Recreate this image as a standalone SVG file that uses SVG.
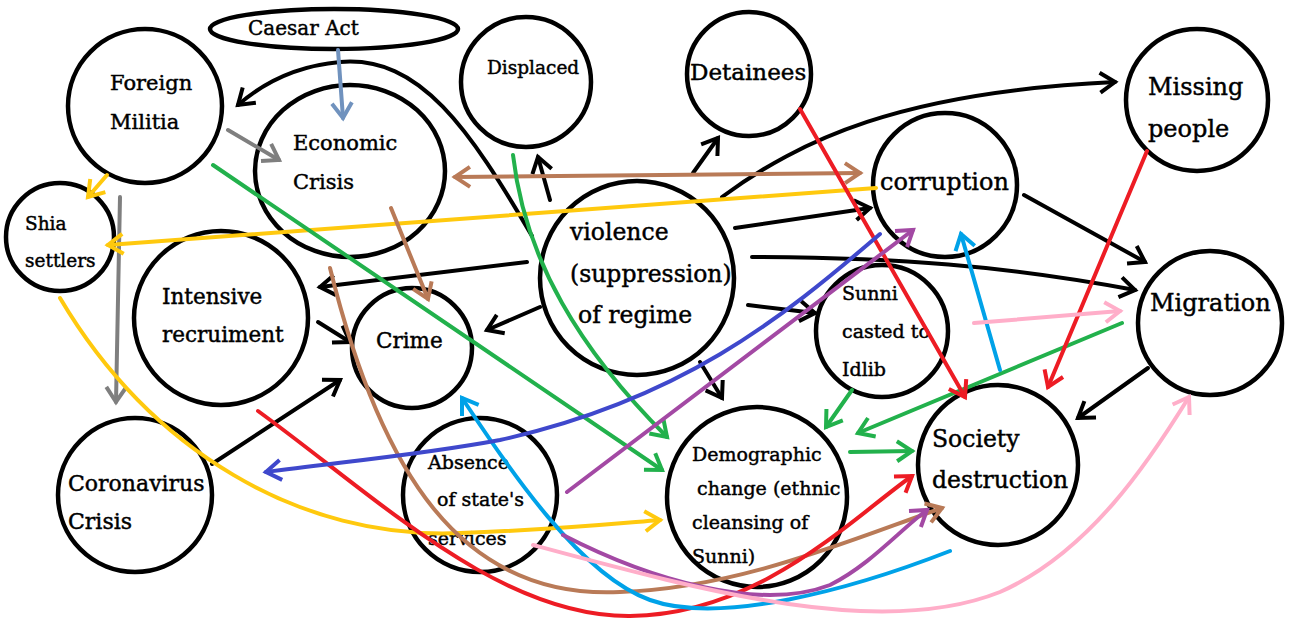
<svg xmlns="http://www.w3.org/2000/svg" width="1290" height="621" viewBox="0 0 1290 621">
<defs>
<style>
.n{fill:none;stroke:#000;stroke-width:4.5}
.t{font-family:"DejaVu Serif","Liberation Serif",serif;fill:#000;stroke:#000;stroke-width:0.45}
.c{fill:none;stroke-width:4;stroke-linecap:round}
.k{stroke:#000}.g{stroke:#7f7f7f}.sb{stroke:#7092be}.y{stroke:#ffc90e}.br{stroke:#b97a57}
.gr{stroke:#22b14c}.r{stroke:#ed1c24}.cy{stroke:#00a2e8}.bl{stroke:#3f48cc}.pu{stroke:#a349a4}.pk{stroke:#ffaec9}
</style>
<marker id="ak" viewBox="0 0 26 26" refX="20" refY="13" markerWidth="26" markerHeight="26" markerUnits="userSpaceOnUse" orient="auto-start-reverse"><path d="M5 3 L20 13 L5 23" fill="none" stroke="#000" stroke-width="4"/></marker>
<marker id="ag" viewBox="0 0 26 26" refX="20" refY="13" markerWidth="26" markerHeight="26" markerUnits="userSpaceOnUse" orient="auto-start-reverse"><path d="M5 3 L20 13 L5 23" fill="none" stroke="#7f7f7f" stroke-width="4"/></marker>
<marker id="asb" viewBox="0 0 26 26" refX="20" refY="13" markerWidth="26" markerHeight="26" markerUnits="userSpaceOnUse" orient="auto-start-reverse"><path d="M5 3 L20 13 L5 23" fill="none" stroke="#7092be" stroke-width="4"/></marker>
<marker id="ay" viewBox="0 0 26 26" refX="20" refY="13" markerWidth="26" markerHeight="26" markerUnits="userSpaceOnUse" orient="auto-start-reverse"><path d="M5 3 L20 13 L5 23" fill="none" stroke="#ffc90e" stroke-width="4"/></marker>
<marker id="abr" viewBox="0 0 26 26" refX="20" refY="13" markerWidth="26" markerHeight="26" markerUnits="userSpaceOnUse" orient="auto-start-reverse"><path d="M5 3 L20 13 L5 23" fill="none" stroke="#b97a57" stroke-width="4"/></marker>
<marker id="agr" viewBox="0 0 26 26" refX="20" refY="13" markerWidth="26" markerHeight="26" markerUnits="userSpaceOnUse" orient="auto-start-reverse"><path d="M5 3 L20 13 L5 23" fill="none" stroke="#22b14c" stroke-width="4"/></marker>
<marker id="ar" viewBox="0 0 26 26" refX="20" refY="13" markerWidth="26" markerHeight="26" markerUnits="userSpaceOnUse" orient="auto-start-reverse"><path d="M5 3 L20 13 L5 23" fill="none" stroke="#ed1c24" stroke-width="4"/></marker>
<marker id="acy" viewBox="0 0 26 26" refX="20" refY="13" markerWidth="26" markerHeight="26" markerUnits="userSpaceOnUse" orient="auto-start-reverse"><path d="M5 3 L20 13 L5 23" fill="none" stroke="#00a2e8" stroke-width="4"/></marker>
<marker id="abl" viewBox="0 0 26 26" refX="20" refY="13" markerWidth="26" markerHeight="26" markerUnits="userSpaceOnUse" orient="auto-start-reverse"><path d="M5 3 L20 13 L5 23" fill="none" stroke="#3f48cc" stroke-width="4"/></marker>
<marker id="apu" viewBox="0 0 26 26" refX="20" refY="13" markerWidth="26" markerHeight="26" markerUnits="userSpaceOnUse" orient="auto-start-reverse"><path d="M5 3 L20 13 L5 23" fill="none" stroke="#a349a4" stroke-width="4"/></marker>
<marker id="apk" viewBox="0 0 26 26" refX="20" refY="13" markerWidth="26" markerHeight="26" markerUnits="userSpaceOnUse" orient="auto-start-reverse"><path d="M5 3 L20 13 L5 23" fill="none" stroke="#ffaec9" stroke-width="4"/></marker>
</defs>
<rect width="1290" height="621" fill="#fff"/>

<g id="caesar"><ellipse class="n" cx="334" cy="29" rx="124" ry="20"/><text class="t" x="248" y="35" font-size="20">Caesar Act</text></g>
<g id="foreign"><circle class="n" cx="145" cy="106" r="77"/><text class="t" font-size="21"><tspan x="110" y="90">Foreign</tspan><tspan x="110" y="129">Militia</tspan></text></g>
<g id="economic"><ellipse class="n" cx="350" cy="171" rx="95" ry="86"/><text class="t" font-size="21"><tspan x="293" y="150">Economic</tspan><tspan x="293" y="189">Crisis</tspan></text></g>
<g id="shia"><circle class="n" cx="60" cy="237" r="54"/><text class="t" font-size="18.5"><tspan x="25" y="230">Shia</tspan><tspan x="25" y="267">settlers</tspan></text></g>
<g id="intensive"><circle class="n" cx="221" cy="318" r="87"/><text class="t" font-size="21.5"><tspan x="162" y="304">Intensive</tspan><tspan x="162" y="342">recruiment</tspan></text></g>
<g id="crime"><circle class="n" cx="412" cy="348" r="60"/><text class="t" x="376" y="348" font-size="21.5">Crime</text></g>
<g id="corona"><circle class="n" cx="135" cy="495" r="77"/><text class="t" font-size="22"><tspan x="68" y="491">Coronavirus</tspan><tspan x="68" y="529">Crisis</tspan></text></g>
<g id="displaced"><circle class="n" cx="526" cy="82" r="65"/><text class="t" x="487" y="74" font-size="18.5">Displaced</text></g>
<g id="detainees"><circle class="n" cx="749" cy="74" r="62"/><text class="t" x="690" y="80" font-size="23">Detainees</text></g>
<g id="violence"><circle class="n" cx="637" cy="278" r="97"/><text class="t" font-size="23.5"><tspan x="570" y="240">violence</tspan><tspan x="570" y="282">(suppression)</tspan><tspan x="578" y="323">of regime</tspan></text></g>
<g id="corruption"><circle class="n" cx="945" cy="185" r="72"/><text class="t" x="880" y="190" font-size="24">corruption</text></g>
<g id="missing"><circle class="n" cx="1197" cy="100" r="71"/><text class="t" font-size="24"><tspan x="1148" y="95">Missing</tspan><tspan x="1148" y="137">people</tspan></text></g>
<g id="migration"><circle class="n" cx="1210" cy="323" r="72"/><text class="t" x="1150" y="311" font-size="24">Migration</text></g>
<g id="sunni"><circle class="n" cx="882" cy="331" r="66"/><text class="t" font-size="19"><tspan x="842" y="300">Sunni</tspan><tspan x="842" y="338">casted to</tspan><tspan x="842" y="376">Idlib</tspan></text></g>
<g id="society"><circle class="n" cx="998" cy="465" r="80"/><text class="t" font-size="23.5"><tspan x="932" y="447">Society</tspan><tspan x="932" y="488">destruction</tspan></text></g>
<g id="demographic"><circle class="n" cx="757" cy="497" r="90"/><text class="t" font-size="19"><tspan x="692" y="461">Demographic</tspan><tspan x="697" y="495">change (ethnic</tspan><tspan x="692" y="529">cleansing of</tspan><tspan x="692" y="563">Sunni)</tspan></text></g>
<g id="absence"><circle class="n" cx="480" cy="495" r="77"/><text class="t" font-size="19"><tspan x="428" y="469">Absence</tspan><tspan x="437" y="506">of state's</tspan><tspan x="428" y="545">services</tspan></text></g>

<g id="connectors">
<path class="c k" d="M722 197 C800 140 900 92 1115 82" marker-end="url(#ak)"/>
<path class="c k" d="M532 236 C470 130 420 55 340 62 C295 66 262 84 238 105" marker-end="url(#ak)"/>
<path class="c k" d="M693 173 L718 138" marker-end="url(#ak)"/>
<path class="c k" d="M550 200 L538 157" marker-end="url(#ak)"/>
<path class="c k" d="M735 228 L870 208" marker-end="url(#ak)"/>
<path class="c k" d="M752 257 C900 258 1000 265 1135 290" marker-end="url(#ak)"/>
<path class="c k" d="M1024 195 L1145 262" marker-end="url(#ak)"/>
<path class="c k" d="M527 262 L320 287" marker-end="url(#ak)"/>
<path class="c k" d="M540 307 L487 330" marker-end="url(#ak)"/>
<path class="c k" d="M748 305 L815 313" marker-end="url(#ak)"/>
<path class="c k" d="M700 362 L722 398" marker-end="url(#ak)"/>
<path class="c k" d="M318 322 L350 342" marker-end="url(#ak)"/>
<path class="c k" d="M212 464 L340 380" marker-end="url(#ak)"/>
<path class="c k" d="M1148 368 L1078 418" marker-end="url(#ak)"/>
<path class="c g" d="M228 130 L279 160" marker-end="url(#ag)"/>
<path class="c g" d="M120 197 L116 402" marker-end="url(#ag)"/>
<path class="c sb" d="M338 50 L343 118" marker-end="url(#asb)"/>
<path class="c y" d="M107 175 L88 197" marker-end="url(#ay)"/>
<path class="c y" d="M876 188 L108 245" marker-end="url(#ay)"/>
<path class="c y" d="M60 298 C150 450 300 540 460 533 C550 530 600 525 660 520" marker-end="url(#ay)"/>
<path class="c br" d="M455 177 L860 173" marker-start="url(#abr)" marker-end="url(#abr)"/>
<path class="c br" d="M391 208 L428 299" marker-end="url(#abr)"/>
<path class="c br" d="M330 268 C380 470 460 600 620 592 C740 588 850 540 942 508" marker-end="url(#abr)"/>
<path class="c gr" d="M213 165 L662 470" marker-end="url(#agr)"/>
<path class="c gr" d="M513 155 C525 260 580 350 667 437" marker-end="url(#agr)"/>
<path class="c gr" d="M852 390 L826 427" marker-end="url(#agr)"/>
<path class="c gr" d="M1122 323 L858 433" marker-end="url(#agr)"/>
<path class="c gr" d="M850 452 L912 451" marker-end="url(#agr)"/>
<path class="c r" d="M800 109 L965 397" marker-end="url(#ar)"/>
<path class="c r" d="M1147 151 L1048 387" marker-end="url(#ar)"/>
<path class="c r" d="M258 411 C380 500 500 617 630 616 C760 614 850 520 912 476" marker-end="url(#ar)"/>
<path class="c cy" d="M1000 370 L961 234" marker-end="url(#acy)"/>
<path class="c cy" d="M950 551 C850 590 720 625 650 600 C580 575 510 470 462 398" marker-end="url(#acy)"/>
<path class="c bl" d="M880 234 C780 320 680 400 500 440 C420 455 340 462 266 472" marker-end="url(#abl)"/>
<path class="c pu" d="M567 492 L913 230" marker-end="url(#apu)"/>
<path class="c pu" d="M563 535 C650 580 760 612 830 585 C870 565 900 530 927 510" marker-end="url(#apu)"/>
<path class="c pk" d="M974 323 L1120 311" marker-end="url(#apk)"/>
<path class="c pk" d="M533 545 C700 590 880 640 1000 592 C1090 552 1150 460 1189 397" marker-end="url(#apk)"/>
</g>
</svg>
